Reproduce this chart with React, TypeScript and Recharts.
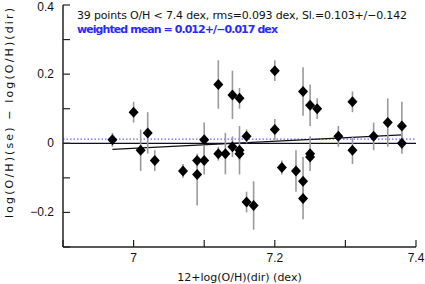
import React from 'react';
import { ScatterChart, Scatter, XAxis, YAxis, ErrorBar, ReferenceLine, Label } from 'recharts';

// 12+log(O/H)(dir)
const xDir = [6.97, 7.0, 7.01, 7.02, 7.03, 7.07, 7.09, 7.09, 7.1, 7.1, 7.12, 7.12, 7.13, 7.14, 7.14, 7.15, 7.15, 7.15, 7.16, 7.16, 7.17, 7.2, 7.2, 7.21, 7.23, 7.24, 7.24, 7.24, 7.25, 7.25, 7.25, 7.26, 7.29, 7.31, 7.31, 7.34, 7.36, 7.38, 7.38];
// log(O/H)(se) - log(O/H)(dir)
const yDiff = [0.01, 0.09, -0.02, 0.03, -0.05, -0.08, -0.05, -0.09, 0.01, -0.05, 0.17, -0.03, -0.03, 0.14, -0.01, 0.13, -0.02, -0.03, 0.02, -0.17, -0.18, 0.21, 0.04, -0.07, -0.08, 0.15, -0.11, -0.16, 0.11, -0.03, -0.04, 0.1, 0.02, 0.12, -0.02, 0.02, 0.06, 0.05, 0.0];
// errors, [low, high] where asymmetric
const yErr: (number | number[])[] = [0.02, 0.03, 0.06, 0.06, 0.03, 0.02, 0.02, [0.09, 0.04], 0.05, 0.04, 0.07, 0.02, 0.06, 0.07, 0.03, 0.03, 0.07, 0.02, 0.02, 0.03, 0.07, 0.03, 0.03, 0.02, 0.06, 0.07, 0.07, 0.06, 0.06, 0.05, 0.02, 0.03, 0.03, 0.03, 0.04, 0.04, 0.07, 0.07, 0.03];

const fitX = [6.97, 7.38];
const fitY = [-0.0178, 0.0245];
const weightedMean = 0.012;

const xTicks = [6.9, 7.0, 7.1, 7.2, 7.3, 7.4];
const xTickLabels = ['', '7', '', '7.2', '', '7.4'];
const yTicks = [-0.3, -0.2, -0.1, 0, 0.1, 0.2, 0.3, 0.4];
const yTickLabels = ['', '\u22120.2', '', '0', '', '0.2', '', '0.4'];

const statsText = '39 points O/H < 7.4 dex, rms=0.093 dex, Sl.=0.103+/\u22120.142';
const meanText = 'weighted mean = 0.012+/\u22120.017 dex';

const data = xDir.map((x, i) => ({ x, y: yDiff[i], err: yErr[i] }));

const FONT = '"DejaVu Sans", sans-serif';
const TICK_FONT = '"Liberation Sans", Arial, sans-serif';
const TL = 7;

const Diamond = (props: any) => {
  const { cx, cy } = props;
  return <polygon points={`${cx},${cy - 5.5} ${cx + 5},${cy} ${cx},${cy + 5.5} ${cx - 5},${cy}`} fill="#000" />;
};

const BottomTick = (props: any) => {
  const { x, y, index } = props;
  const label = xTickLabels[index];
  return (
    <g>
      <line x1={x} x2={x} y1={y} y2={y - TL} stroke="#222" strokeWidth={1.2} />
      {label && (
        <text x={x} y={y + 15} textAnchor="middle" fontSize={12} fontFamily={TICK_FONT} fill="#111">
          {label}
        </text>
      )}
    </g>
  );
};

const TopTick = (props: any) => {
  const { x, y } = props;
  return <line x1={x} x2={x} y1={y} y2={y + TL} stroke="#222" strokeWidth={1.2} />;
};

const LeftTick = (props: any) => {
  const { x, y, index } = props;
  const label = yTickLabels[index];
  return (
    <g>
      <line x1={x} x2={x + TL} y1={y} y2={y} stroke="#222" strokeWidth={1.2} />
      {label && (
        <text x={x - 9} y={Math.max(y + 4, 11)} textAnchor="end" fontSize={12} fontFamily={TICK_FONT} fill="#111">
          {label}
        </text>
      )}
    </g>
  );
};

const RightTick = (props: any) => {
  const { x, y } = props;
  return <line x1={x} x2={x - TL} y1={y} y2={y} stroke="#222" strokeWidth={1.2} />;
};

const YTitle = (props: any) => {
  const { viewBox } = props;
  const cy = viewBox.y + viewBox.height / 2 - 13;
  return (
    <text
      transform={`translate(13, ${cy}) rotate(-90)`}
      textAnchor="middle"
      fontSize={11}
      fontFamily={FONT}
      fill="#111"
      textLength={210}
      lengthAdjust="spacing"
    >
      {'log(O/H)(se)  \u2212 log(O/H)(dir)'}
    </text>
  );
};

const axisLine = { stroke: '#222', strokeWidth: 1.5 };

export default function App() {
  return (
    <div style={{ position: 'absolute', left: 0, top: 0, width: 425, height: 284, background: '#fff' }}>
      <ScatterChart width={425} height={284} margin={{ top: 5, right: 9, left: 0, bottom: 0 }}>
        <XAxis
          dataKey="x"
          type="number"
          domain={[6.9, 7.4]}
          ticks={xTicks}
          interval={0}
          height={37}
          tickSize={0}
          tickMargin={0}
          tickLine={false}
          axisLine={axisLine}
          tick={<BottomTick />}
          allowDataOverflow
        >
          <Label
            value="12+log(O/H)(dir) (dex)"
            position="insideBottom"
            offset={3}
            style={{ fontSize: 11, fontFamily: FONT, fill: '#111' }}
          />
        </XAxis>
        <XAxis
          xAxisId="top"
          orientation="top"
          type="number"
          domain={[6.9, 7.4]}
          ticks={xTicks}
          interval={0}
          height={0}
          tickSize={0}
          tickMargin={0}
          tickLine={false}
          axisLine={axisLine}
          tick={<TopTick />}
          allowDataOverflow
        />
        <YAxis
          dataKey="y"
          type="number"
          domain={[-0.3, 0.4]}
          ticks={yTicks}
          interval={0}
          width={63}
          tickSize={0}
          tickMargin={0}
          tickLine={false}
          axisLine={axisLine}
          tick={<LeftTick />}
          allowDataOverflow
        >
          <Label content={<YTitle />} />
        </YAxis>
        <YAxis
          yAxisId="right"
          orientation="right"
          type="number"
          domain={[-0.3, 0.4]}
          ticks={yTicks}
          interval={0}
          width={0}
          tickSize={0}
          tickMargin={0}
          tickLine={false}
          axisLine={axisLine}
          tick={<RightTick />}
          allowDataOverflow
        />
        <ReferenceLine y={0} stroke="#111" strokeWidth={1.3} />
        <ReferenceLine y={weightedMean} stroke="#6666ff" strokeWidth={1.3} strokeDasharray="1.5 2" />
        <ReferenceLine
          segment={[
            { x: fitX[0], y: fitY[0] },
            { x: fitX[1], y: fitY[1] },
          ]}
          stroke="#111"
          strokeWidth={1.2}
        />
        <Scatter data={data} shape={<Diamond />} isAnimationActive={false}>
          <ErrorBar dataKey="err" direction="y" width={0} stroke="#9a9a9a" strokeWidth={1.6} />
        </Scatter>
      </ScatterChart>
      <svg width={425} height={284} style={{ position: 'absolute', left: 0, top: 0, pointerEvents: 'none' }}>
        <text x={77} y={19} fontSize={11} fontFamily={FONT} fill="#111" textLength={330} lengthAdjust="spacing">
          {statsText}
        </text>
        <text x={77} y={33} fontSize={11} fontFamily={FONT} fill="#2a2aff" fontWeight="bold" textLength={201} lengthAdjust="spacing">
          {meanText}
        </text>
      </svg>
    </div>
  );
}
